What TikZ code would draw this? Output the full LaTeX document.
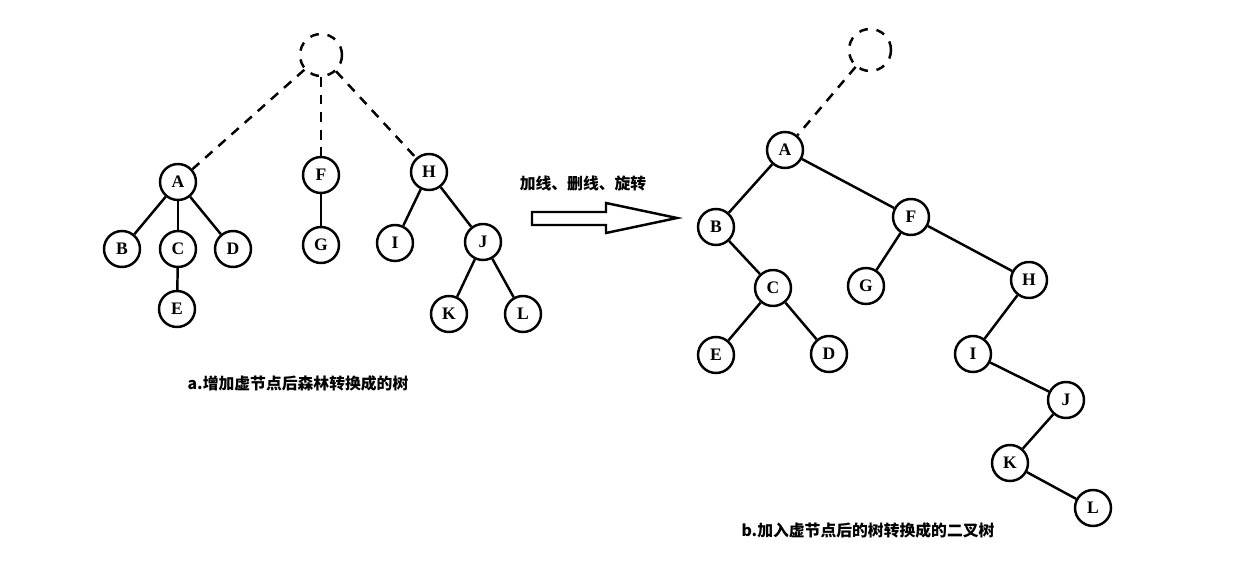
\documentclass[tikz,border=0pt]{standalone}
\usepackage{fontspec}
\setmainfont{Liberation Serif}
\newfontfamily\cjk{Noto Sans CJK SC}

\tikzset{
  vtx/.style={circle,draw,line width=1.4pt,minimum size=0.72cm,inner sep=0pt,
    font=\fontsize{10}{12}\selectfont\bfseries},
  virt/.style={circle,draw,line width=1.4pt,minimum size=0.84cm,inner sep=0pt,
    dash pattern=on 5pt off 5pt},
  edge/.style={line width=1.4pt},
  vedge/.style={line width=1.4pt,dash pattern=on 5.5pt off 4.5pt},
  caption/.style={font=\cjk\fontsize{9}{11}\selectfont\bfseries}
}

\begin{document}
\begin{tikzpicture}[x=0.02cm,y=-0.02cm]
        \useasboundingbox (0,0) rectangle (1250,570) ;
        % a. forest with a virtual root
        \node[virt] (lv) at (321,55) {} ;
        \node[vtx] (lA) at (178,182) {A} ;
        \node[vtx] (lB) at (122,249) {B} ;
        \node[vtx] (lC) at (178,249) {C} ;
        \node[vtx] (lD) at (233,249) {D} ;
        \node[vtx] (lE) at (177,309) {E} ;
        \node[vtx] (lF) at (321,175) {F} ;
        \node[vtx] (lG) at (321,245) {G} ;
        \node[vtx] (lH) at (429,172) {H} ;
        \node[vtx] (lI) at (395,243) {I} ;
        \node[vtx] (lJ) at (483,242) {J} ;
        \node[vtx] (lK) at (449,314) {K} ;
        \node[vtx] (lL) at (523,314) {L} ;
        \draw[vedge] (lv) -- (lA) ;
        \draw[vedge] (lv) -- (lF) ;
        \draw[vedge] (lv) -- (lH) ;
        \draw[edge] (lA) -- (lB) ; \draw[edge] (lA) -- (lC) ; \draw[edge] (lA) -- (lD) ;
        \draw[edge] (lC) -- (lE) ;
        \draw[edge] (lF) -- (lG) ;
        \draw[edge] (lH) -- (lI) ; \draw[edge] (lH) -- (lJ) ;
        \draw[edge] (lJ) -- (lK) ; \draw[edge] (lJ) -- (lL) ;
        \node[caption] (capa) at (298,383) {a.增加虚节点后森林转换成的树} ;

        % the big arrow
        \node[caption] (ops) at (583,184) {加线、删线、旋转} ;
        \draw[line width=1.4pt] (532,212) -- (606,212) -- (606,203) -- (677,218)
        -- (606,233) -- (606,225) -- (532,225) -- cycle ;

        % b. binary tree
        \node[virt] (rv) at (870,50) {} ;
        \node[vtx] (rA) at (785,150) {A} ;
        \node[vtx] (rB) at (716,227) {B} ;
        \node[vtx] (rF) at (911,217) {F} ;
        \node[vtx] (rC) at (773,288) {C} ;
        \node[vtx] (rG) at (866,286) {G} ;
        \node[vtx] (rH) at (1029,280) {H} ;
        \node[vtx] (rE) at (716,355) {E} ;
        \node[vtx] (rD) at (829,354) {D} ;
        \node[vtx] (rI) at (973,354) {I} ;
        \node[vtx] (rJ) at (1066,400) {J} ;
        \node[vtx] (rK) at (1010,463) {K} ;
        \node[vtx] (rL) at (1093,508) {L} ;
        \draw[vedge] (rv) -- (rA) ;
        \draw[edge] (rA) -- (rB) ; \draw[edge] (rA) -- (rF) ;
        \draw[edge] (rB) -- (rC) ;
        \draw[edge] (rC) -- (rE) ; \draw[edge] (rC) -- (rD) ;
        \draw[edge] (rF) -- (rG) ; \draw[edge] (rF) -- (rH) ;
        \draw[edge] (rH) -- (rI) ;
        \draw[edge] (rI) -- (rJ) ;
        \draw[edge] (rJ) -- (rK) ;
        \draw[edge] (rK) -- (rL) ;
        \node[caption] (capb) at (868,530) {b.加入虚节点后的树转换成的二叉树} ;
      \end{tikzpicture}
\end{document}
